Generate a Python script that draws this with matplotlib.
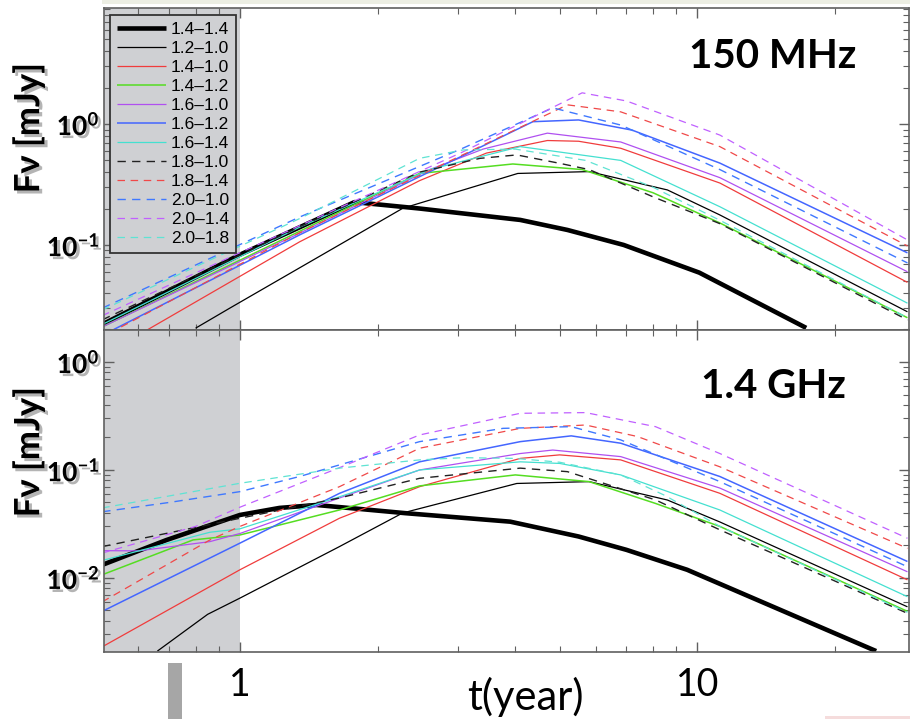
import numpy as np
import matplotlib
matplotlib.use("Agg")
import matplotlib.pyplot as plt
from matplotlib import patheffects as pe
from matplotlib.patches import Rectangle
from matplotlib.ticker import FixedLocator, LogLocator, NullFormatter, FuncFormatter

# ---------------- data ----------------
labels = ["1.4\u20131.4", "1.2\u20131.0", "1.4\u20131.0", "1.4\u20131.2",
          "1.6\u20131.0", "1.6\u20131.2", "1.6\u20131.4", "1.8\u20131.0",
          "1.8\u20131.4", "2.0\u20131.0", "2.0\u20131.4", "2.0\u20131.8"]

# 150 MHz light curves: time [yr] and flux density [mJy]
t_150 = [
    [0.5, 1.0, 1.78, 2.47, 4.1, 5.2, 6.9, 10.1, 17.3],
    [0.8, 0.95, 2.27, 4.05, 5.8, 8.6, 11.2, 28.8],
    [0.6, 1.35, 2.47, 3.46, 4.7, 5.5, 6.8, 11.2, 28.8],
    [0.5, 1.78, 2.47, 3.95, 5.6, 8.0, 11.2, 28.8],
    [0.5, 1.35, 2.6, 3.4, 4.7, 6.8, 11.2, 28.8],
    [0.53, 1.35, 4.37, 5.5, 7.2, 11.2, 28.8],
    [0.5, 1.35, 2.6, 4.1, 6.8, 11.2, 28.8],
    [0.5, 1.35, 2.47, 3.35, 4.03, 5.0, 5.8, 8.0, 11.2, 28.8],
    [0.55, 1.35, 5.2, 6.8, 11.2, 28.8],
    [0.5, 1.35, 3.07, 4.83, 6.8, 11.2, 28.8],
    [0.5, 0.95, 3.07, 5.6, 7.0, 11.2, 28.8],
    [0.5, 1.35, 2.47, 3.07, 4.0, 5.7, 8.0, 11.2, 28.8],
]
f_150 = [
    [0.022, 0.083, 0.226, 0.200, 0.161, 0.133, 0.100, 0.059, 0.0206],
    [0.0205, 0.030, 0.201, 0.39, 0.404, 0.285, 0.177, 0.028],
    [0.018, 0.106, 0.34, 0.575, 0.73, 0.72, 0.63, 0.325, 0.049],
    [0.021, 0.215, 0.39, 0.467, 0.42, 0.27, 0.152, 0.025],
    [0.021, 0.125, 0.42, 0.62, 0.84, 0.71, 0.36, 0.060],
    [0.020, 0.121, 1.045, 1.08, 0.89, 0.475, 0.086],
    [0.022, 0.14, 0.42, 0.65, 0.50, 0.207, 0.033],
    [0.024, 0.141, 0.40, 0.52, 0.555, 0.473, 0.42, 0.25, 0.15, 0.024],
    [0.021, 0.126, 1.44, 1.26, 0.65, 0.098],
    [0.030, 0.17, 0.63, 1.36, 0.98, 0.42, 0.071],
    [0.026, 0.079, 0.587, 1.81, 1.55, 0.81, 0.110],
    [0.029, 0.165, 0.52, 0.61, 0.62, 0.50, 0.30, 0.16, 0.025],
]

# 1.4 GHz light curves
t_1400 = [
    [0.5, 0.69, 1.0, 1.22, 1.47, 2.3, 3.9, 5.5, 7.0, 9.5, 24.6],
    [0.66, 0.85, 1.0, 1.65, 2.27, 4.03, 5.8, 8.6, 11.2, 28.8],
    [0.5, 1.0, 1.65, 2.47, 4.1, 5.0, 6.8, 11.2, 28.8],
    [0.5, 0.79, 1.0, 1.65, 2.47, 4.0, 5.8, 8.1, 11.2, 28.8],
    [0.5, 0.6, 0.86, 1.0, 1.65, 2.47, 4.1, 4.83, 6.8, 11.2, 28.8],
    [0.5, 1.0, 1.65, 2.47, 4.1, 5.3, 6.8, 11.2, 28.8],
    [0.5, 0.86, 1.0, 1.65, 2.47, 4.1, 5.0, 6.8, 11.2, 28.8],
    [0.5, 1.0, 1.65, 2.47, 4.1, 5.2, 8.1, 11.2, 28.8],
    [0.5, 0.86, 1.0, 1.65, 2.47, 4.1, 5.7, 7.4, 11.2, 28.8],
    [0.5, 0.7, 1.0, 1.35, 2.47, 3.76, 5.3, 6.8, 11.2, 28.8],
    [0.5, 0.8, 1.0, 1.65, 2.47, 4.1, 5.7, 8.1, 11.2, 28.8],
    [0.5, 1.0, 1.65, 2.47, 3.07, 4.0, 5.0, 6.8, 8.5, 11.2, 28.8],
]
f_1400 = [
    [0.0132, 0.0224, 0.0383, 0.0445, 0.0474, 0.0398, 0.0332, 0.0242, 0.0182, 0.0119, 0.0021],
    [0.0021, 0.0046, 0.0065, 0.0195, 0.040, 0.075, 0.078, 0.0527, 0.033, 0.0054],
    [0.0023, 0.0119, 0.0357, 0.070, 0.128, 0.138, 0.124, 0.0608, 0.0096],
    [0.0107, 0.0225, 0.025, 0.0426, 0.0712, 0.090, 0.078, 0.049, 0.030, 0.0049],
    [0.0179, 0.0178, 0.0217, 0.0258, 0.055, 0.10, 0.142, 0.153, 0.133, 0.068, 0.0114],
    [0.0049, 0.021, 0.0607, 0.119, 0.183, 0.207, 0.177, 0.087, 0.0142],
    [0.0145, 0.0265, 0.0285, 0.0564, 0.10, 0.119, 0.115, 0.09, 0.0426, 0.0067],
    [0.0195, 0.0357, 0.055, 0.0837, 0.104, 0.0965, 0.0528, 0.0279, 0.0047],
    [0.006, 0.0225, 0.030, 0.070, 0.159, 0.243, 0.261, 0.204, 0.107, 0.0188],
    [0.041, 0.050, 0.063, 0.087, 0.183, 0.243, 0.252, 0.19, 0.078, 0.0127],
    [0.017, 0.030, 0.0452, 0.105, 0.211, 0.335, 0.34, 0.252, 0.142, 0.0233],
    [0.0445, 0.0753, 0.104, 0.124, 0.13, 0.128, 0.118, 0.09, 0.058, 0.030, 0.0048],
]

x_ticks = [1, 10]
shade_end = 1.0

# ---------------- styles ----------------
colors = ["black", "black", "#f03c3c", "#55dd22", "#b050f0", "#4466ff",
          "#44e0d0", "#222222", "#f04848", "#3f78ff", "#c060ff", "#5fe3d3"]
widths = [3.3, 0.9, 0.9, 1.1, 0.9, 1.1, 0.9, 1.0, 0.9, 1.0, 0.9, 0.9]
dash = (0, (6, 4.5))
styles = ["-"] * 7 + [dash] * 5
shade = "#cfd0d3"
spine_col = "#606060"

plt.rcParams["mathtext.fontset"] = "custom"
plt.rcParams["mathtext.rm"] = "Lato"
plt.rcParams["mathtext.bf"] = "Lato:bold"

W, H = 910, 719
fig = plt.figure(figsize=(W / 100, H / 100), dpi=100)


def box(x0, y0, x1, y1):
    return [x0 / W, 1 - y1 / H, (x1 - x0) / W, (y1 - y0) / H]


ax_top = fig.add_axes(box(104, 8, 908.5, 330))
ax_bot = fig.add_axes(box(104, 330, 908.5, 652), sharex=ax_top)

xlim = (0.5045, 28.95)
shadow = [pe.SimplePatchShadow(offset=(2.2, -2.2), shadow_rgbFace="#777777", alpha=0.55),
          pe.Normal()]

panels = [(ax_top, t_150, f_150, (0.0198, 9.1), "150 MHz", 0.848),
          (ax_bot, t_1400, f_1400, (0.00206, 1.98), "1.4 GHz", 0.826)]

for ax, ts, fs, ylim, name, ny in panels:
    ax.set_xscale("log")
    ax.set_yscale("log")
    ax.axvspan(xlim[0] * 0.9, shade_end, color=shade, lw=0, zorder=0)
    for i in range(len(labels)):
        ax.plot(ts[i], fs[i], color=colors[i], lw=widths[i], ls=styles[i],
                label=labels[i], zorder=2, solid_capstyle="butt")
    ax.set_xlim(*xlim)
    ax.set_ylim(*ylim)
    for s in ax.spines.values():
        s.set_color(spine_col)
        s.set_linewidth(1.2)
    ax.xaxis.set_major_locator(FixedLocator(x_ticks))
    ax.xaxis.set_minor_locator(LogLocator(base=10, subs=np.arange(2, 10), numticks=20))
    ax.xaxis.set_minor_formatter(NullFormatter())
    ax.yaxis.set_major_locator(LogLocator(base=10, numticks=20))
    ax.yaxis.set_minor_locator(LogLocator(base=10, subs=np.arange(2, 10), numticks=20))
    ax.yaxis.set_minor_formatter(NullFormatter())
    ax.yaxis.set_major_formatter(
        FuncFormatter(lambda v, p: r"$\mathbf{10^{%d}}$" % int(round(np.log10(v)))))
    ax.tick_params(which="both", direction="in", top=True, right=True,
                   color=spine_col)
    ax.tick_params(which="major", length=7, width=1.0)
    ax.tick_params(which="minor", length=4, width=0.8)
    ax.tick_params(axis="y", which="major", labelsize=19, pad=3)
    ax.text(0.8316, ny, name, transform=ax.transAxes, ha="center", va="center",
            fontsize=29, fontweight="bold", family="Lato", zorder=5)

ax_top.tick_params(axis="x", which="both", labelbottom=False)
ax_bot.xaxis.set_major_formatter(FuncFormatter(lambda v, p: "%g" % v))
ax_bot.tick_params(axis="x", which="major", labelsize=27, pad=11)
for lab in ax_bot.get_xticklabels():
    lab.set_family("Lato")

leg = ax_top.legend(loc="upper left", bbox_to_anchor=(6 / 804.5, 1 - 7 / 322),
                    borderaxespad=0, frameon=True, fancybox=False,
                    facecolor=shade, edgecolor="#333333", framealpha=1,
                    prop={"family": "Liberation Sans", "size": 12.5},
                    handlelength=2.8, handletextpad=0.3, labelspacing=0.22,
                    borderpad=0.4)
leg.get_frame().set_linewidth(1.3)
leg.set_zorder(6)

# axis titles
for yc in (128, 452):
    fig.text(29 / W, 1 - yc / H, "F\u03bd [mJy]", rotation=90, ha="center",
             va="center", fontsize=25, fontweight="bold",
             family=["Lato", "DejaVu Sans"], path_effects=shadow)
fig.text(525 / W, 1 - 710 / H, "t(year)", ha="center", va="baseline",
         fontsize=30, family="Lato")

# decorative strips around the figure
fig.patches.append(Rectangle((102 / W, 1 - 4 / H), (W - 102) / W, 4 / H,
                             transform=fig.transFigure, color="#eceee3", lw=0))
fig.patches.append(Rectangle((168 / W, 0), 14 / W, (H - 663) / H,
                             transform=fig.transFigure, color="#a6a6a6", lw=0))
fig.patches.append(Rectangle((825 / W, 0), 85 / W, 3 / H,
                             transform=fig.transFigure, color="#f5dcdc", lw=0))

fig.canvas.draw()
for ax in (ax_top, ax_bot):
    for lab in ax.get_yticklabels():
        lab.set_path_effects(shadow)

fig.savefig("out.png", dpi=100)
